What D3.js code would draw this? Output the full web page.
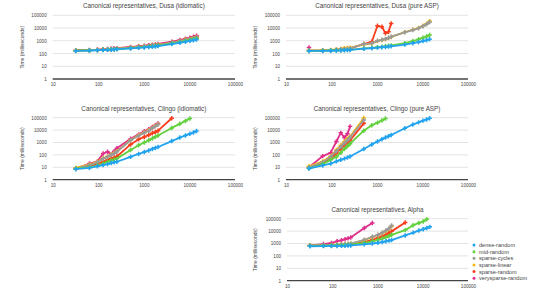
<!DOCTYPE html>
<html>
<head>
<meta charset="utf-8">
<script src="https://cdn.jsdelivr.net/npm/d3@7"></script>
<style>
  body { margin: 0; background: #fff; }
  svg { display: block; font-family: "Liberation Sans", Arial, sans-serif; }
</style>
</head>
<body>
<script>
// graph sizes (x axis)
const sizes = [32, 64, 96, 128, 160, 192, 224, 256, 512, 768, 1024, 1280, 1536, 1792, 2048,
               4096, 6144, 8192, 10240, 12288, 14336];

const seriesNames = ['dense-random', 'mid-random', 'sparse-cycles', 'sparse-linear',
                     'sparse-random', 'verysparse-random'];
const seriesColors = ['#22a3ef', '#63d13e', '#9a9a9a', '#f6b90f', '#fa3d1c', '#df2f8b'];

const yTicks = [1, 10, 100, 1000, 10000, 100000];
const xTicks = [10, 100, 1000, 10000, 100000];

// times in ms, one row per series (same order as seriesNames)
const dusaIdiomatic = [
    [160, 170, 180, 190, 195, 200, 210, 215, 250, 280, 300, 320, 340, 360, 380, 550, 700, 850, 1000, 1100, 1250],
    [165, 175, 185, 195, 200, 210, 220, 225, 270, 300, 330, 350, 380, 400, 420, 620, 800, 1000, 1150, 1300, 1500],
    [170, 180, 190, 200, 210, 220, 230, 240, 290, 330, 360, 390, 420, 450, 480, 700, 950, 1200, 1400, 1600, 1900],
    [170, 180, 190, 200, 210, 220, 230, 240, 290, 320, 350, 380, 410, 440, 470, 680, 900, 1150, 1350, 1550, 1800],
    [175, 185, 195, 205, 215, 225, 235, 245, 300, 340, 380, 410, 440, 470, 500, 750, 1000, 1300, 1500, 1750, 2100],
    [175, 190, 200, 215, 225, 235, 250, 260, 330, 370, 410, 450, 490, 520, 560, 850, 1150, 1450, 1750, 2100, 2500]
];
const dusaPure = [
    [160, 160, 165, 170, 175, 180, 185, 190, 240, 260, 290, 310, 330, 350, 370, 500, 650, 800, 950, 1100, 1300],
    [160, 165, 170, 175, 180, 185, 190, 195, 250, 280, 310, 340, 370, 400, 430, 650, 950, 1300, 1700, 2200, 2800],
    [170, 175, 185, 200, 215, 230, 240, 250, 560, 630, 1000, 1200, 1400, 1700, 2100, 4600, 7000, 9500, 14000, 20000, 30000],
    [175, 180, 190, 210, 240, 260, 270, 290, 500, 600, 950, 1150, 1350, 1650, 2000, 4800, 7500, 10000, 15000, 22000, 35000],
    [170, 175, 185, 200, 215, 230, 240, 250, 550, 850, 15000, 12600, 3900, 5100, 23000],
    [300]
];
const clingoIdiomatic = [
    [7, 9, 12, 15, 18, 22, 25, 28, 70, 120, 170, 230, 300, 370, 430, 1300, 2500, 3700, 5000, 6500, 8500],
    [8, 10, 14, 20, 28, 35, 42, 50, 250, 600, 1000, 1500, 2100, 2900, 3700, 15000, 32000, 55000, 85000],
    [8, 15, 25, 50, 70, 100, 130, 180, 1500, 3500, 6000, 9000, 14000, 20000, 28000],
    [9, 17, 28, 55, 75, 110, 140, 200, 1600, 3800, 6500, 10000, 15000, 22000, 30000],
    [8, 12, 18, 28, 40, 52, 62, 75, 700, 1800, 2800, 4000, 5500, 7000, 9000, 90000],
    [8, 20, 30, 130, 180, 110, 200, 350, 2000, 4500, 8000, 12000, 18000, 25000, 35000]
];
const clingoPure = [
    [8, 14, 20, 30, 40, 50, 62, 75, 300, 700, 1200, 1800, 2500, 3200, 4000, 14000, 28000, 42000, 58000, 72000, 90000],
    [8, 18, 40, 70, 150, 300, 500, 800, 9000, 25000, 40000, 60000, 85000],
    [10, 25, 70, 200, 450, 900, 1500, 2500, 65000],
    [12, 30, 80, 250, 600, 1200, 2000, 3000, 95000],
    [9, 20, 50, 130, 300, 600, 1000, 1500, 35000],
    [10, 80, 150, 1200, 6000, 2500, 5000, 20000]
];
const alpha = [
    [600, 620, 630, 640, 650, 660, 680, 700, 850, 1000, 1150, 1300, 1500, 1700, 1900, 4500, 7500, 11000, 14000, 18000, 22000],
    [650, 680, 700, 720, 740, 760, 780, 800, 1100, 1500, 2000, 2500, 3200, 4000, 5000, 12000, 30000, 45000, 60000, 90000],
    [700, 730, 760, 800, 840, 880, 930, 1000, 2000, 3500, 5000, 7500, 11000, 16000, 28000],
    [700, 720, 750, 790, 830, 870, 920, 980, 1900, 3300, 4800, 7000, 10000, 15000, 25000],
    [680, 700, 720, 740, 760, 800, 830, 870, 1300, 2000, 2800, 3800, 5000, 7000, 9500, 50000],
    [700, 900, 1100, 1500, 1800, 2200, 2600, 3000, 18000, 45000]
];

const panels = [
    { title: 'Canonical representatives, Dusa (idiomatic)', data: dusaIdiomatic, x0: 52.7, x1: 235, top: 15.3, bottom: 79, ylab: 22 },
    { title: 'Canonical representatives, Dusa (pure ASP)', data: dusaPure, x0: 286, x1: 468, top: 15.3, bottom: 79, ylab: 255 },
    { title: 'Canonical representatives, Clingo (idiomatic)', data: clingoIdiomatic, x0: 52.7, x1: 235, top: 117.7, bottom: 179.7, ylab: 22 },
    { title: 'Canonical representatives, Clingo (pure ASP)', data: clingoPure, x0: 286, x1: 468, top: 117.7, bottom: 179.7, ylab: 255 },
    { title: 'Canonical representatives, Alpha', data: alpha, x0: 287, x1: 468, top: 218.7, bottom: 280.7, ylab: 255 }
];

function drawPanel(svg, p)
{
    const scX = d3.scaleLog().domain([10, 100000]).range([p.x0, p.x1]);
    const scY = d3.scaleLog().domain([1, 100000]).range([p.bottom, p.top]);
    const g = svg.append('g');

    g.append('text')
        .attr('x', (p.x0 + p.x1) / 2)
        .attr('y', p.top - 7)
        .attr('text-anchor', 'middle')
        .attr('font-size', 6.3)
        .attr('fill', '#444')
        .text(p.title);

    // grid
    g.selectAll('line.grid')
        .data(yTicks.slice(1)).enter().append('line')
        .attr('x1', p.x0).attr('x2', p.x1)
        .attr('y1', d => scY(d)).attr('y2', d => scY(d))
        .attr('stroke', '#dcdcdc').attr('stroke-width', 0.8);

    const yAxis = g.append('g')
        .attr('transform', `translate(${p.x0}, 0)`)
        .call(d3.axisLeft(scY).tickValues(yTicks).tickFormat(d3.format('d')).tickSize(0).tickPadding(6));
    const xAxis = g.append('g')
        .attr('transform', `translate(0, ${p.bottom})`)
        .call(d3.axisBottom(scX).tickValues(xTicks).tickFormat(d3.format('d')).tickSize(0).tickPadding(4));
    [yAxis, xAxis].forEach(a => {
        a.select('.domain').remove();
        a.selectAll('text').attr('font-size', 4.6).attr('fill', '#444')
            .attr('font-family', '"Liberation Sans", Arial, sans-serif');
    });

    g.append('line')
        .attr('x1', p.x0).attr('x2', p.x1)
        .attr('y1', p.bottom).attr('y2', p.bottom)
        .attr('stroke', '#444').attr('stroke-width', 1.3);

    g.append('text')
        .attr('transform', `translate(${p.ylab}, ${(p.top + p.bottom) / 2}) rotate(-90)`)
        .attr('text-anchor', 'middle')
        .attr('dy', '0.35em')
        .attr('font-size', 5)
        .attr('fill', '#444')
        .text('Time (milliseconds)');

    const line = d3.line()
        .x((d, i) => scX(sizes[i]))
        .y(d => scY(d));
    const cross = d3.symbol(d3.symbolCross).size(11);

    // draw last series first so dense-random ends on top
    for (let s = p.data.length - 1; s >= 0; s--) {
        const vals = p.data[s];
        const sg = g.append('g');
        sg.append('path')
            .attr('d', line(vals))
            .attr('fill', 'none')
            .attr('stroke', seriesColors[s])
            .attr('stroke-width', 1.8)
            .attr('stroke-linejoin', 'round');
        sg.selectAll('path.pt')
            .data(vals).enter().append('path')
            .attr('class', 'pt')
            .attr('transform', (d, i) => `translate(${scX(sizes[i])}, ${scY(d)})`)
            .attr('d', cross)
            .attr('fill', seriesColors[s]);
    }
}

function drawLegend(svg)
{
    const lg = svg.append('g').attr('transform', 'translate(474, 245)');
    const items = lg.selectAll('g')
        .data(seriesNames).enter().append('g')
        .attr('transform', (d, i) => `translate(0, ${i * 6.65})`);
    items.append('circle')
        .attr('r', 1.5)
        .attr('fill', (d, i) => seriesColors[i]);
    items.append('text')
        .attr('x', 5)
        .attr('dy', '0.35em')
        .attr('font-size', 5.6)
        .attr('fill', '#444')
        .text(d => d);
}

function main()
{
    const svg = d3.select('body').append('svg')
        .attr('width', 542)
        .attr('height', 292);
    panels.forEach(p => drawPanel(svg, p));
    drawLegend(svg);
}

main();
</script>
</body>
</html>
